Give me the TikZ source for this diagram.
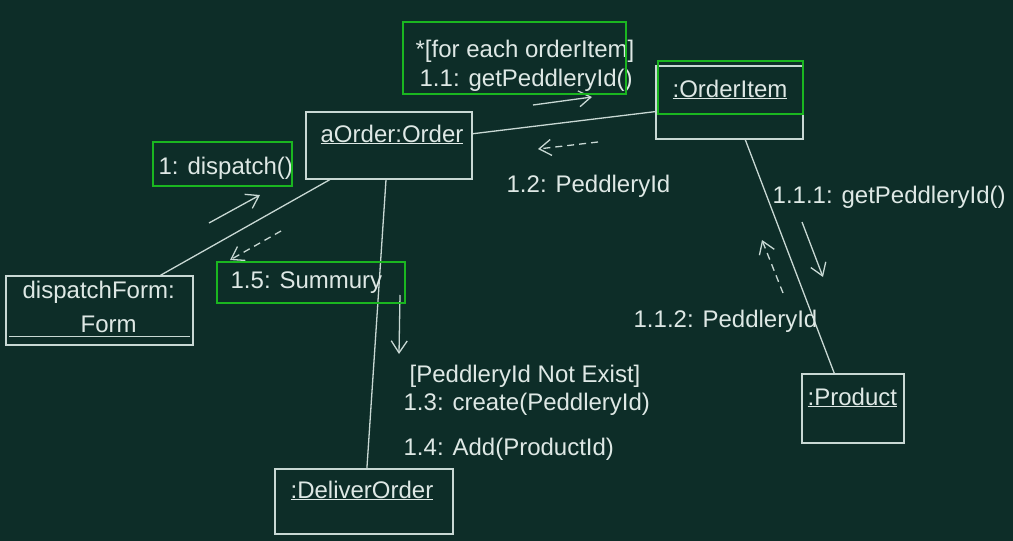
\documentclass[tikz,border=0pt]{standalone}
\usepackage{fontspec}
\setmainfont{Liberation Sans}
\usepackage{tikz}
\usetikzlibrary{arrows.meta, positioning}

\definecolor{board}{RGB}{13,45,40}
\definecolor{chalk}{RGB}{200,216,212}
\definecolor{mark}{RGB}{26,182,32}

\begin{document}
\begin{tikzpicture}[x=1pt, y=-1pt, line width=1.3pt]
        \tikzset{obj/.style={draw=chalk, rectangle, inner sep=0pt}}
        \tikzset{txt/.style={text=chalk!60!white, inner sep=0pt, anchor=base west, font=\fontsize{24}{30}\selectfont}}
        \tikzset{hilite/.style={draw=mark, line width=2.4pt}}
        \tikzset{link/.style={draw=chalk}}
        \tikzset{msg/.style={chalk, -{Straight Barb[length=12pt,width=16pt]}}}
        \tikzset{reply/.style={msg, dash pattern=on 7pt off 5pt}}

        \fill[board] (0,0) rectangle (1013,541);
        \useasboundingbox (0,0) rectangle (1013,541);

        % objects
        \node[obj, minimum width=166pt, minimum height=67pt] (o_order) at (389,145.5) {};
        \node[obj, minimum width=187pt, minimum height=69pt] (o_form) at (99.5,310.5) {};
        \node[obj, minimum width=147pt, minimum height=73pt] (o_item) at (729.5,102.5) {};
        \node[obj, minimum width=102pt, minimum height=69pt] (o_product) at (853,408.5) {};
        \node[obj, minimum width=178pt, minimum height=65pt] (o_deliver) at (364,501.5) {};
        \draw[link] ([shift={(4,-9)}]o_form.south west) -- ([shift={(-4,-9)}]o_form.south east);

        \node[txt] (t_order) at (320,142) {\underline{aOrder:Order}};
        \node[txt] (t_form) at (22,298) {dispatchForm:};
        \node[txt] (t_form2) at (80,332) {Form};
        \node[txt] (t_item) at (672,97) {\underline{:OrderItem}};
        \node[txt] (t_product) at (807,405) {\underline{:Product}};
        \node[txt] (t_deliver) at (290,498) {\underline{:DeliverOrder}};

        % links
        \draw[link] (o_order.8) -- (o_item.187);
        \draw[link] (o_order.210) -- (o_form.30);
        \draw[link] (o_order.265) -- (o_deliver.85);
        \draw[link] (o_item.293) -- (o_product.118);

        % messages
        \coordinate (m1_a) at (209,223);   \coordinate (m1_b) at (260,195);
        \coordinate (m11_a) at (533,105);  \coordinate (m11_b) at (592,97);
        \coordinate (m12_a) at (598,142);  \coordinate (m12_b) at (538,149);
        \coordinate (m111_a) at (802,222); \coordinate (m111_b) at (823,277);
        \coordinate (m112_a) at (783,293); \coordinate (m112_b) at (762,240);
        \coordinate (m13_a) at (400,295);  \coordinate (m13_b) at (399,354);
        \coordinate (m15_a) at (281,231);  \coordinate (m15_b) at (230,260);
        \draw[msg] (m1_a) -- (m1_b);
        \draw[msg] (m11_a) -- (m11_b);
        \draw[reply] (m12_a) -- (m12_b);
        \draw[msg] (m111_a) -- (m111_b);
        \draw[reply] (m112_a) -- (m112_b);
        \draw[msg] (m13_a) -- (m13_b);
        \draw[reply] (m15_a) -- (m15_b);

        \node[txt] (l_for) at (415,57) {*[for each orderItem]};
        \node[txt] (l_11) at (419,86) {1.1: getPeddleryId()};
        \node[txt] (l_1) at (158,174) {1: dispatch()};
        \node[txt] (l_12) at (506,192) {1.2: PeddleryId};
        \node[txt] (l_111) at (772,203) {1.1.1: getPeddleryId()};
        \node[txt] (l_15) at (230,288) {1.5: Summury};
        \node[txt] (l_112) at (633,327) {1.1.2: PeddleryId};
        \node[txt] (l_not) at (409,382) {[PeddleryId Not Exist]};
        \node[txt] (l_13) at (403,410) {1.3: create(PeddleryId)};
        \node[txt] (l_14) at (403,455) {1.4: Add(ProductId)};

        % highlights
        \draw[hilite] (403,22) rectangle (626,94);
        \draw[hilite] (153,142) rectangle (292,186);
        \draw[hilite] (217,262) rectangle (405,303);
        \draw[hilite] (658,61) rectangle (803,114);
    \end{tikzpicture}
\end{document}
